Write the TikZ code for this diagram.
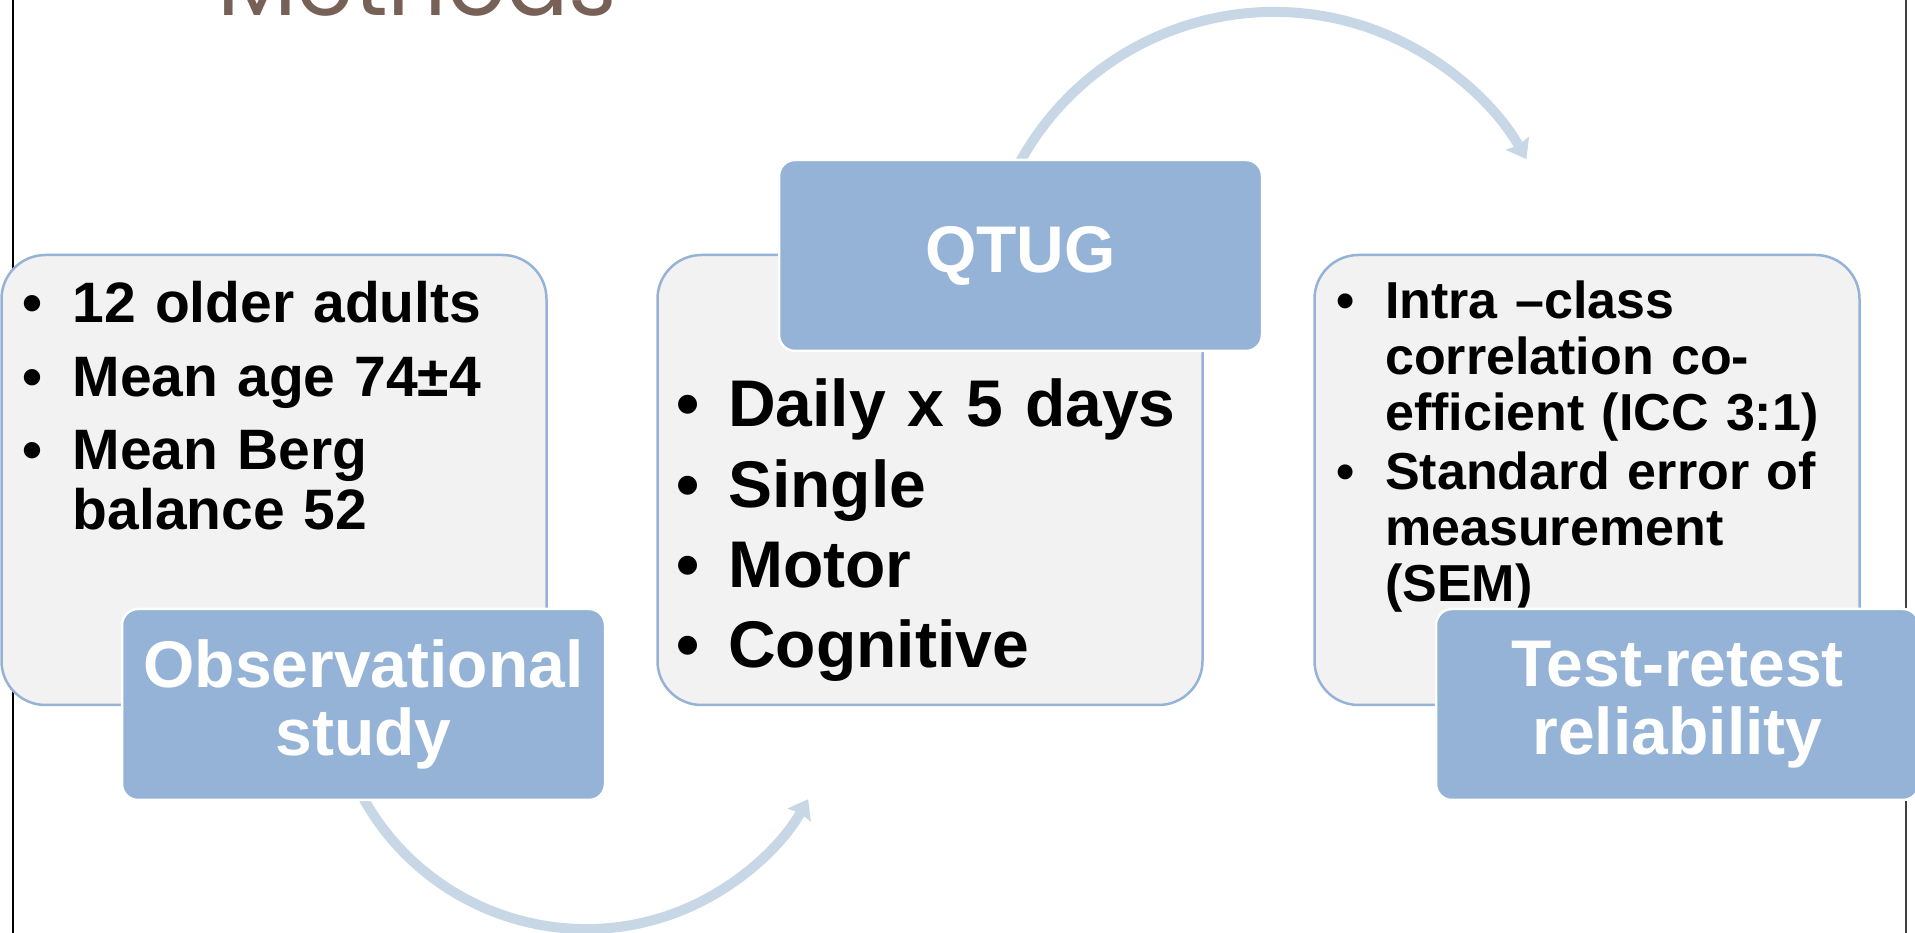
\documentclass[tikz,border=0pt]{standalone}
\usepackage{graphicx}
\usepackage{fontspec}
\setmainfont{Liberation Sans}
\newfontfamily\titlefont{Poppins}
\usetikzlibrary{arrows.meta}

\definecolor{boxgrey}{HTML}{F2F2F2}
\definecolor{boxblue}{HTML}{95B3D7}
\definecolor{arcblue}{HTML}{C7D7E6}
\definecolor{titlebrown}{HTML}{776055}

% bullet item with hanging indent: bullet centred 31pt from the left edge, text at 71pt
\newlength{\bhang}
\setlength{\bhang}{71pt}
\newcommand{\bitem}[1]{\noindent\hangindent=\bhang\hangafter=1\relax
  \makebox[\bhang][l]{\makebox[62pt][c]{\textbullet}}#1\par}

\begin{document}
\begin{tikzpicture}[x=1pt,y=1pt,
  greybox/.style={draw=boxblue, fill=boxgrey, line width=2.5pt, rounded corners=44pt,
    minimum width=545pt, minimum height=450pt, inner sep=0pt},
  bluebox/.style={draw=white, fill=boxblue, line width=2.5pt, rounded corners=16pt,
    minimum width=483pt, minimum height=191pt, inner sep=0pt, text=white, align=center,
    font=\fontsize{66}{68}\selectfont\bfseries},
  listtext/.style={anchor=base west, inner sep=0pt, text width=545pt, align=left},
  flowarrow/.style={draw=arcblue, line width=10pt,
    -{Stealth[length=18pt,width=26pt,inset=2pt]}},
]
\path[use as bounding box] (0,0) rectangle (1915,933);
\clip (0,0) rectangle (1915,933);

% page rules
\draw[line width=1.8pt, black] (13,0) -- (13,933);
\draw[line width=2.2pt, black!75] (1906,0) -- (1906,933);

% heading
\node[anchor=base west, inner sep=0pt, text=titlebrown] (title) at (217,917)
  {\resizebox{400pt}{!}{\titlefont\fontsize{100}{100}\selectfont Methods}};

% curved arrows between the stages (drawn first, they run under the boxes)
\coordinate (obsarcstart) at (358.8,143.2);
\coordinate (qtugarcstart) at (1015.6,762.7);
\draw[flowarrow] (obsarcstart) arc[start angle=207, end angle=330.6, radius=255];
\draw[flowarrow] (qtugarcstart) arc[start angle=153, end angle=29.5, radius=290];

% content panels
\node[greybox] (samplebox) at (274,453) {};
\node[greybox] (protocolbox) at (930,453) {};
\node[greybox] (analysisbox) at (1587,453) {};

\node[listtext, font=\fontsize{57}{60}\selectfont\bfseries] (samplelist) at (1.5,610)
  {\setlength{\parskip}{13.5pt}%
   \bitem{12 older adults}%
   \bitem{Mean age 74±4}%
   \bitem{Mean Berg\newline balance 52}};

\node[listtext, font=\fontsize{66}{80.3}\selectfont\bfseries] (protocollist) at (657,506)
  {\setlength{\parskip}{0pt}%
   \bitem{Daily x 5 days}%
   \bitem{Single}%
   \bitem{Motor}%
   \bitem{Cognitive}};

\node[listtext, font=\fontsize{52}{56}\selectfont\bfseries] (analysislist) at (1314,614)
  {\setlength{\parskip}{3pt}%
   \bitem{Intra –class\newline correlation co-\newline efficient (ICC 3:1)}%
   \bitem{Standard error of\newline measurement\newline (SEM)}};

% stage labels
\node[bluebox] (obs) at (363.5,228.5) {Observational\\study};
\node[bluebox] (qtug) at (1020.5,677.5) {QTUG};
\node[bluebox] (retest) at (1677.5,228.5) {Test-retest\\reliability};
\end{tikzpicture}
\end{document}
